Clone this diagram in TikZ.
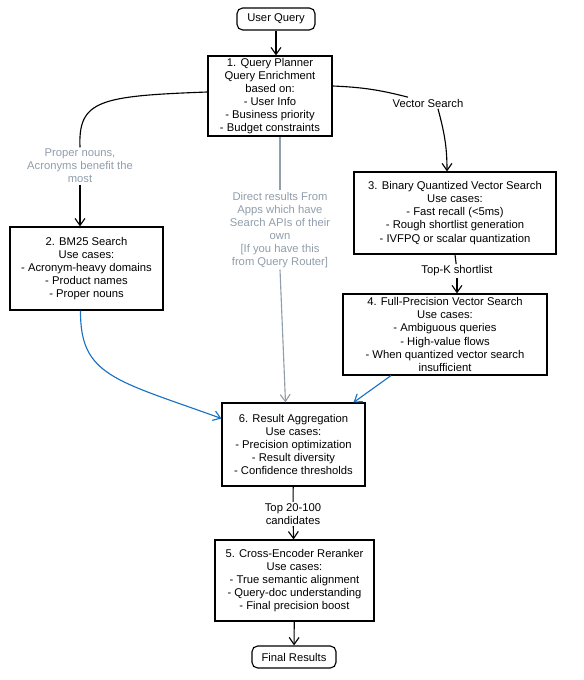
\documentclass[tikz,border=0pt]{standalone}
\usepackage{fontspec}
\setmainfont{Liberation Sans}
\usetikzlibrary{arrows.meta}
\definecolor{routegrey}{RGB}{145,158,172}
\definecolor{fuseblue}{RGB}{25,113,194}

\begin{document}
\begin{tikzpicture}[
        font=\fontsize{8}{9.3}\selectfont,
        stage/.style={draw,line width=0.8pt,align=center,inner sep=1pt},
        terminal/.style={draw,line width=0.8pt,rounded corners=4pt,minimum height=0.55cm},
        flow/.style={line width=0.8pt,-{Straight Barb[length=5pt,width=7pt]}},
        note/.style={align=center,fill=white,inner sep=1pt}
    ]
            \useasboundingbox (0,0) rectangle (14.575,17);
            % Stages
            \node[terminal,minimum width=1.95cm] (query) at (6.9,16.525) {User Query};
            \node[stage,minimum width=3.1cm,minimum height=2cm] (planner) at (6.75,14.6)
                {1. Query Planner\\Query Enrichment\\based on:\\- User Info\\- Business priority\\- Budget constraints};
            \node[stage,minimum width=3.825cm,minimum height=2.075cm] (bm25) at (2.1625,10.2875)
                {2. BM25 Search\\Use cases:\\- Acronym-heavy domains\\- Product names\\- Proper nouns};
            \node[stage,minimum width=5.05cm,minimum height=2.05cm] (binary) at (11.375,11.675)
                {3. Binary Quantized Vector Search\\Use cases:\\- Fast recall (<5ms)\\- Rough shortlist generation\\- IVFPQ or scalar quantization};
            \node[stage,minimum width=5.1cm,minimum height=2.025cm] (fullprec) at (11.125,8.6375)
                {4. Full-Precision Vector Search\\Use cases:\\- Ambiguous queries\\- High-value flows\\- When quantized vector search\\insufficient};
            \node[stage,minimum width=3.575cm,minimum height=2.075cm] (aggreg) at (7.3375,5.8875)
                {6. Result Aggregation\\Use cases:\\- Precision optimization\\- Result diversity\\- Confidence thresholds};
            \node[stage,minimum width=3.975cm,minimum height=2.025cm] (rerank) at (7.3625,2.4875)
                {5. Cross-Encoder Reranker\\Use cases:\\- True semantic alignment\\- Query-doc understanding\\- Final precision boost};
            \node[terminal,minimum width=2.1cm] (final) at (7.35,0.575) {Final Results};
            % Edge labels
            \node[note,text=routegrey] (proper) at (2.0,12.85) {Proper nouns,\\Acronyms benefit the\\most};
            \node[note] (vector) at (10.7,14.425) {Vector Search};
            \node[note,text=routegrey] (direct) at (7.0,11.25)
                {Direct results From\\Apps which have\\Search APIs of their\\own\\{[If you have this}\\from Query Router]};
            \node[note] (topk) at (11.425,10.225) {Top-K shortlist};
            \node[note] (topn) at (7.325,4.15) {Top 20-100\\candidates};
            % Connectors
            \draw[flow] (query.south) -- (query.south |- planner.north);
            \draw[line width=0.8pt] ([yshift=0.1cm]planner.west) .. controls (2.5,14.6) and (1.95,14.5) .. (proper.north);
            \draw[flow] (proper.south) -- (proper.south |- bm25.north);
            \draw[line width=0.8pt] ([yshift=0.25cm]planner.east) to[bend left=6] ([xshift=-0.5cm]vector.north);
            \draw[flow] ([xshift=0.25cm]vector.south) to[out=-75,in=90] ([xshift=-0.2cm]binary.north);
            \draw[line width=0.8pt,routegrey] (direct.north |- planner.south) -- (direct.north);
            \draw[flow,routegrey] (direct.south) -- ([xshift=-0.2cm]aggreg.north);
            \draw[line width=0.8pt] (binary.south) -- (topk);
            \draw[flow] (topk.south) -- (topk.south |- fullprec.north);
            \draw[flow,fuseblue] ([xshift=-0.15cm]bm25.south) .. controls (2.0,7.6) and (2.875,7.5) .. ([yshift=0.65cm]aggreg.west);
            \draw[flow,fuseblue] ([xshift=-1.35cm]fullprec.south) -- ([xshift=-0.3cm]aggreg.north east);
            \draw[line width=0.8pt] (aggreg) -- (topn);
            \draw[flow] (topn) -- (rerank);
            \draw[flow] (rerank) -- (final);
           \end{tikzpicture}
\end{document}
